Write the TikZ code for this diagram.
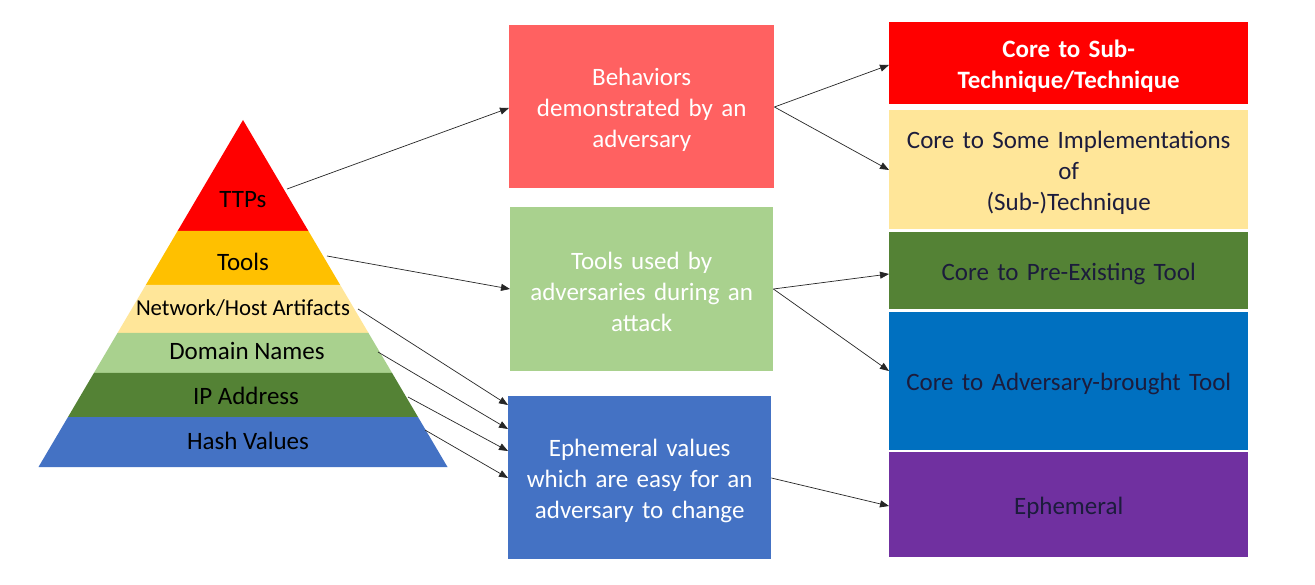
\documentclass[tikz,border=0pt]{standalone}
\usepackage{fontspec}
\setmainfont{Carlito}
\usetikzlibrary{arrows.meta}
\definecolor{cRed}{HTML}{FF0000}
\definecolor{cGold}{HTML}{FFC000}
\definecolor{cCream}{HTML}{FFE699}
\definecolor{cLGreen}{HTML}{A9D18E}
\definecolor{cDGreen}{HTML}{548235}
\definecolor{cBlue}{HTML}{4472C4}
\definecolor{cSalmon}{HTML}{FF6161}
\definecolor{cMBlue}{HTML}{0070C0}
\definecolor{cPurple}{HTML}{7030A0}
\definecolor{cNavy}{HTML}{1C1C3C}
\tikzset{
  layerlabel/.style={font=\fontsize{25}{31}\selectfont, text=black, inner sep=0pt},
  boxnode/.style={anchor=north west, inner sep=0pt},
  boxtext/.style={inner sep=0pt, align=center, text width=#1, yshift=-3pt,
     font=\fontsize{25}{31}\selectfont},
  conn/.style={line width=0.7pt, draw=black!85, -{Triangle[length=9pt,width=7pt]}}
}
\begin{document}
\begin{tikzpicture}[x=1pt,y=-1pt]
\useasboundingbox (0,0) rectangle (1315,585);
\fill[white] (0,0) rectangle (1315,585);
% pyramid layers
\fill[cRed]    (243,120) -- (308.4,231) -- (177.6,231) -- cycle;
\fill[cGold]   (177.6,231) -- (308.4,231) -- (340.2,285) -- (145.8,285) -- cycle;
\fill[cCream]  (145.8,285) -- (340.2,285) -- (368.5,333) -- (117.5,333) -- cycle;
\fill[cLGreen] (117.5,333) -- (368.5,333) -- (392.1,373) -- (93.9,373) -- cycle;
\fill[cDGreen] (93.9,373) -- (392.1,373) -- (418,417) -- (68,417) -- cycle;
\fill[cBlue]   (68,417) -- (418,417) -- (447.5,467) -- (38.5,467) -- cycle;
\node[layerlabel] (ttps) at (243,200) {TTPs};
\node[layerlabel] (tools) at (243,262) {Tools};
\node[layerlabel, font=\fontsize{22.8}{28}\selectfont] (net) at (243,308) {Network/Host Artifacts};
\node[layerlabel] (dom) at (247,351) {Domain Names};
\node[layerlabel] (ip) at (246,396) {IP Address};
\node[layerlabel] (hash) at (248,441) {Hash Values};
% start coordinates on pyramid edge
\coordinate (sTTP) at (287,189);
\coordinate (sTool) at (327,256);
\coordinate (sNet) at (358,309);
\coordinate (sDom) at (378,352);
\coordinate (sIP) at (408,397);
\coordinate (sHash) at (425,430);
% middle boxes
\node[boxnode, minimum width=265pt, minimum height=163pt, fill=cSalmon] (b1) at (509,25) {};
\node[boxtext=265pt, text=white] (b1t) at (b1.center) {Behaviors\\demonstrated by an\\adversary};
\node[boxnode, minimum width=263pt, minimum height=164pt, fill=cLGreen] (b2) at (510,207) {};
\node[boxtext=263pt, text=white] (b2t) at (b2.center) {Tools used by\\adversaries during an\\attack};
\node[boxnode, minimum width=263pt, minimum height=163pt, fill=cBlue] (b3) at (508,396) {};
\node[boxtext=263pt, text=white] (b3t) at (b3.center) {Ephemeral values\\which are easy for an\\adversary to change};
% right column
\node[boxnode, minimum width=359pt, minimum height=82pt, fill=cRed] (r1) at (889,22) {};
\node[boxtext=359pt, text=white, font=\fontsize{25}{31}\selectfont\bfseries] (r1t) at (r1.center) {Core to Sub-\\Technique/Technique};
\node[boxnode, minimum width=359pt, minimum height=119pt, fill=cCream] (r2) at (889,110) {};
\node[boxtext=359pt, text=cNavy] (r2t) at (r2.center) {Core to Some Implementations\\of\\(Sub-)Technique};
\node[boxnode, minimum width=359pt, minimum height=77pt, fill=cDGreen] (r3) at (889,232) {};
\node[boxtext=359pt, text=cNavy] (r3t) at (r3.center) {Core to Pre-Existing Tool};
\node[boxnode, minimum width=359pt, minimum height=138pt, fill=cMBlue] (r4) at (889,312) {};
\node[boxtext=359pt, text=cNavy] (r4t) at (r4.center) {Core to Adversary-brought Tool};
\node[boxnode, minimum width=359pt, minimum height=105pt, fill=cPurple] (r5) at (889,452) {};
\node[boxtext=359pt, text=cNavy] (r5t) at (r5.center) {Ephemeral};
% end coordinates on middle boxes
\coordinate (eTTP) at (b1.west |- 0,108);
\coordinate (eTool) at (b2.west |- 0,289);
\coordinate (eNet) at (b3.west |- 0,405);
\coordinate (eDom) at (b3.west |- 0,429);
\coordinate (eIP) at (b3.west |- 0,451);
\coordinate (eHash) at (b3.west |- 0,478);
\draw[conn] (sTTP) -- (eTTP);
\draw[conn] (sTool) -- (eTool);
\draw[conn] (sNet) -- (eNet);
\draw[conn] (sDom) -- (eDom);
\draw[conn] (sIP) -- (eIP);
\draw[conn] (sHash) -- (eHash);
% middle to right
\coordinate (oB1) at (b1.east |- 0,107);
\coordinate (oB2) at (b2.east |- 0,289);
\coordinate (oB3) at (b3.east |- 0,478);
\draw[conn] (oB1) -- (r1.west |- 0,65);
\draw[conn] (oB1) -- (r2.west |- 0,170);
\draw[conn] (oB2) -- (r3.west |- 0,274);
\draw[conn] (oB2) -- (r4.west |- 0,371);
\draw[conn] (oB3) -- (r5.west |- 0,506);
\end{tikzpicture}
\end{document}
